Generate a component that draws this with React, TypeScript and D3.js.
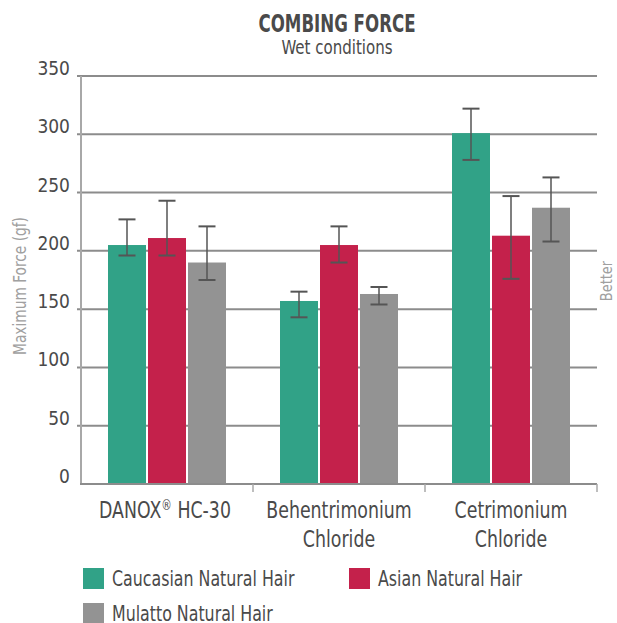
import React, { useEffect } from 'react';
import * as d3 from 'd3';

const categories = [['DANOX® HC-30'], ['Behentrimonium', 'Chloride'], ['Cetrimonium', 'Chloride']];
const series = ['Caucasian Natural Hair', 'Asian Natural Hair', 'Mulatto Natural Hair'];
const colors = ['#31a287', '#c4214b', '#939393'];
// mean values per category, one array per series
const caucasian = [205, 157, 301];
const asian = [211, 205, 213];
const mulatto = [190, 163, 237];
// error bar [low, high]
const caucasianErr = [[196, 227], [143, 165], [278, 322]];
const asianErr = [[196, 243], [190, 221], [176, 247]];
const mulattoErr = [[175, 221], [154, 169], [208, 263]];
const yTicks = [0, 50, 100, 150, 200, 250, 300, 350];

const FONT = '"DejaVu Sans Condensed", "Liberation Sans Narrow", Roboto, sans-serif';
const textColor = '#4a4a4a';

// condensed text: squeeze horizontally around its anchor point
const T = ({ x, y, sx = 1, rotate = 0, children, ...rest }: any) => (
  <text transform={`translate(${x},${y}) rotate(${rotate}) scale(${sx},1)`} {...rest}>
    {children}
  </text>
);

const App = () => {
  useEffect(() => {
    document.body.style.margin = '0';
  }, []);

  const W = 617, H = 623;
  const left = 81, right = 597, top = 76, bottom = 484;

  const y = d3.scaleLinear().domain([0, 350]).range([bottom, top]);
  const x0 = d3.scaleBand<number>().domain([0, 1, 2]).range([left, right]);
  const x1 = d3.scaleBand<number>().domain([0, 1, 2]).range([0, 118]).paddingInner(0.05);

  const values = [caucasian, asian, mulatto];
  const errs = [caucasianErr, asianErr, mulattoErr];

  return (
    <svg width={W} height={H} style={{ display: 'block' }} fontFamily={FONT}>
      <T x={337} y={32} sx={0.74} textAnchor="middle" fontSize={25} fontWeight="bold" fill={textColor}>COMBING FORCE</T>
      <T x={337} y={54} sx={0.88} textAnchor="middle" fontSize={19} fill={textColor}>Wet conditions</T>

      {yTicks.map((t) => (
        <g key={t}>
          {t > 0 && <line x1={77} x2={right} y1={y(t)} y2={y(t)} stroke="#8c8c8c" strokeWidth={2} />}
          <T x={70} y={y(t) - 1} sx={0.95} textAnchor="end" fontSize={20} fill={textColor}>{t}</T>
        </g>
      ))}
      <line x1={left} x2={left} y1={top} y2={bottom} stroke="#a8a8a8" strokeWidth={2} />

      {categories.map((cat, ci) => {
        const gx = (x0(ci) ?? 0) + (x0.bandwidth() - 118) / 2;
        return (
          <g key={ci}>
            {values.map((vals, si) => {
              const bx = gx + (x1(si) ?? 0);
              const bw = x1.bandwidth();
              const cx = bx + bw / 2;
              const [lo, hi] = errs[si][ci];
              return (
                <g key={si}>
                  <rect x={bx} y={y(vals[ci])} width={bw} height={bottom - y(vals[ci])} fill={colors[si]} />
                  <line x1={cx} x2={cx} y1={y(hi)} y2={y(lo)} stroke="#555" strokeWidth={1.5} />
                  <line x1={cx - 8.5} x2={cx + 8.5} y1={y(hi)} y2={y(hi)} stroke="#555" strokeWidth={2} />
                  <line x1={cx - 8.5} x2={cx + 8.5} y1={y(lo)} y2={y(lo)} stroke="#555" strokeWidth={2} />
                </g>
              );
            })}
            {cat.map((line, li) => (
              <T key={li} x={(x0(ci) ?? 0) + x0.bandwidth() / 2 - (line.includes('®') ? 2 : 0)} y={518 + li * 29} sx={0.84} textAnchor="middle" fontSize={23} fill={textColor}>
                {line.includes('®') ? (
                  <>DANOX<tspan fontSize={14} dy={-8}>®</tspan><tspan dy={8}> HC-30</tspan></>
                ) : line}
              </T>
            ))}
          </g>
        );
      })}

      <line x1={left - 1} x2={right} y1={bottom} y2={bottom} stroke="#8c8c8c" strokeWidth={2} />
      {[1, 2, 3].map((i) => {
        const xx = i < 3 ? (x0(i) ?? 0) : right;
        return <line key={i} x1={xx} x2={xx} y1={bottom} y2={bottom + 8} stroke="#a8a8a8" strokeWidth={1.5} />;
      })}

      <T x={26} y={286} rotate={-90} sx={0.9} textAnchor="middle" fontSize={17} fill="#a0a0a0">Maximum Force (gf)</T>
      <T x={612} y={281} rotate={-90} sx={0.9} textAnchor="middle" fontSize={16} fill="#a0a0a0">Better</T>

      {series.map((s, i) => {
        const lx = i === 1 ? 349 : 83;
        const ly = i === 2 ? 603 : 568;
        return (
          <g key={s}>
            <rect x={lx} y={ly} width={21} height={21} fill={colors[i]} />
            <T x={lx + 29} y={ly + 18} sx={0.8} fontSize={22} fill={textColor}>{s}</T>
          </g>
        );
      })}
    </svg>
  );
};

export default App;
